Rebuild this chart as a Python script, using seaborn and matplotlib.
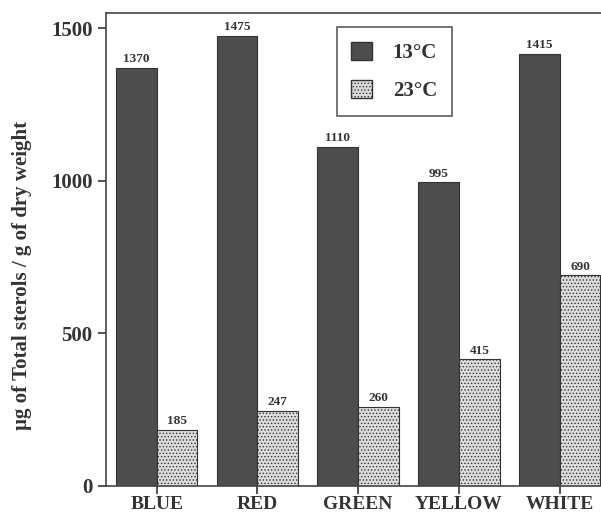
import numpy as np
import pandas as pd
import seaborn as sns
import matplotlib.pyplot as plt
from matplotlib.patches import Patch

# values
colours = ['BLUE', 'RED', 'GREEN', 'YELLOW', 'WHITE']
temps = ['13°C', '23°C']
cold = [1370, 1475, 1110, 995, 1415]
warm = [185, 247, 260, 415, 690]

data = pd.DataFrame({
    'colour': colours * 2,
    'temp': [temps[0]] * 5 + [temps[1]] * 5,
    'sterols': cold + warm,
})

sns.set_style('ticks')
plt.rcParams['font.family'] = ['Liberation Serif', 'DejaVu Serif']
plt.rcParams['hatch.color'] = '#a0a0a0'
plt.rcParams['hatch.linewidth'] = 0.6

dark = '#4d4d4d'
light = '#dcdcdc'

fig = plt.figure(figsize=(6.01, 5.17), dpi=100)
ax = fig.add_axes([0.176, 0.06, 0.824, 0.915])

sns.barplot(data=data, x='colour', y='sterols', hue='temp',
            palette=[dark, light], width=0.81, edgecolor='#333333',
            linewidth=0.8, gap=0, legend=False, ax=ax)

# stipple the 23°C bars
for bar in ax.containers[1]:
    bar.set_hatch('.....')

for cont in ax.containers:
    ax.bar_label(cont, padding=2, fontsize=9.5, fontweight='bold', color='#333333')

ax.set_ylim(0, 1550)
ax.set_xlim(-0.505, 4.41)
ax.set_yticks([0, 500, 1000, 1500])
ax.tick_params(axis='both', width=1.2, length=6, colors='#333333')
ax.tick_params(axis='y', labelsize=15)
ax.tick_params(axis='x', labelsize=14, pad=1)
for lab in ax.get_xticklabels() + ax.get_yticklabels():
    lab.set_fontweight('bold')
ax.set_xlabel('')
ax.set_ylabel('µg of Total sterols / g of dry weight', fontsize=15,
              fontweight='bold', color='#333333')
ax.yaxis.set_label_coords(-0.148, 0.445)
ax.spines['right'].set_visible(False)
for s in ax.spines.values():
    s.set_linewidth(1.2)
    s.set_color('#444444')

handles = [Patch(facecolor=dark, edgecolor='#333333', label=temps[0]),
           Patch(facecolor=light, edgecolor='#333333', hatch='.....', label=temps[1])]
leg = ax.legend(handles=handles, loc='upper left', bbox_to_anchor=(0.466, 0.97),
                frameon=True, fancybox=False, edgecolor='#333333', fontsize=15,
                handlelength=1.0, handleheight=1.0, handletextpad=1.0,
                labelspacing=0.8, borderpad=0.7, borderaxespad=0)
leg.get_frame().set_linewidth(1.2)
for t in leg.get_texts():
    t.set_fontweight('bold')
    t.set_color('#333333')

fig.savefig('out.png', dpi=100)
